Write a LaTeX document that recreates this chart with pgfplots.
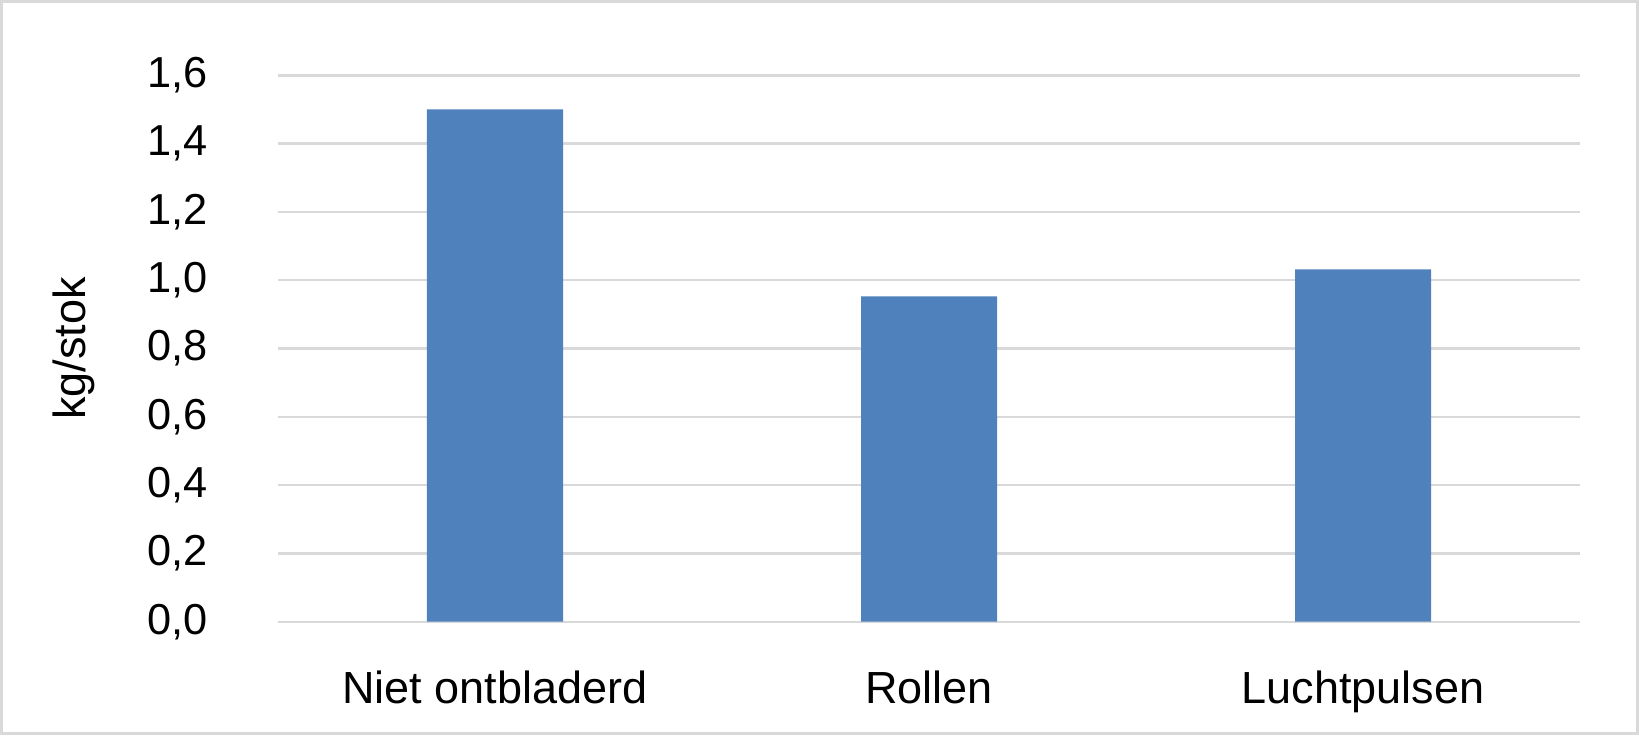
\documentclass[border=0pt]{standalone}
\usepackage{fontspec}
\setmainfont{Liberation Sans}
\usepackage{pgfplots}
\pgfplotsset{compat=1.18}
\definecolor{balk}{HTML}{4F81BD}
\definecolor{rooster}{HTML}{D9D9D9}

\begin{document}
\begin{tikzpicture}
% outer frame (1 px = 0.3 pt)
\path[use as bounding box] (-83.4pt,-34pt) rectangle (408.3pt,186.5pt);
\draw[rooster,line width=0.9pt] (-82.95pt,-33.55pt) rectangle (407.85pt,186.05pt);
\begin{axis}[at={(0,0)},anchor=south west,scale only axis,
  width=390.6pt,height=163.9pt,
  ybar,bar width=40.8pt,
  xmin=-0.5,xmax=2.5,ymin=0,ymax=1.6,
  xtick={0,1,2},xticklabels={Niet ontbladerd,Rollen,Luchtpulsen},
  ytick={0,0.2,0.4,0.6,0.8,1.0,1.2,1.4,1.6},
  ymajorgrids,grid style={rooster,line width=0.7pt},
  axis line style={draw=none},tick style={draw=none},
  /pgf/number format/use comma,/pgf/number format/fixed,
  /pgf/number format/fixed zerofill,/pgf/number format/precision=1,
  /pgf/number format/assume math mode=true,
  yticklabel style={font=\fontsize{13}{15}\selectfont,xshift=-17.5pt},
  xticklabel style={font=\fontsize{13.5}{16}\selectfont,yshift=-7pt},
  ylabel={kg/stok},
  ylabel style={at={(axis description cs:-0.1567,0.5)},anchor=center,
    font=\fontsize{13.5}{16}\selectfont}]
\addplot[fill=balk,draw=none] coordinates {(0,1.50) (1,0.953) (2,1.032)};
\end{axis}
\end{tikzpicture}
\end{document}
